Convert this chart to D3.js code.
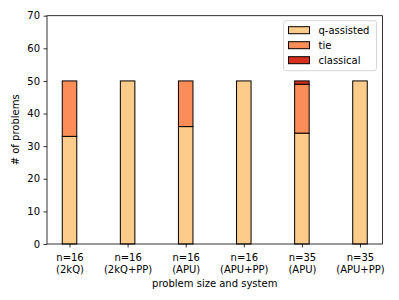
<!DOCTYPE html>
<html>
<head>
<meta charset="utf-8">
<script src="https://cdn.jsdelivr.net/npm/d3@7"></script>
<style>
  body { margin: 0; background: #fff; }
  svg { font-family: "DejaVu Sans", sans-serif; }
</style>
</head>
<body>
<svg id="chart" width="399" height="300"></svg>
<script>
// categories (two-line tick labels)
const categories = [
  ["n=16", "(2kQ)"],
  ["n=16", "(2kQ+PP)"],
  ["n=16", "(APU)"],
  ["n=16", "(APU+PP)"],
  ["n=35", "(APU)"],
  ["n=35", "(APU+PP)"]
];
const qAssisted = [33, 50, 36, 50, 34, 50];
const tie = [17, 0, 14, 0, 15, 0];
const classical = [0, 0, 0, 0, 1, 0];
const seriesNames = ["q-assisted", "tie", "classical"];
const seriesColors = ["#fdcc8a", "#fc8d59", "#d7301f"];
const yTicks = [0, 10, 20, 30, 40, 50, 60, 70];

const svg = d3.select("#chart");
const margin = {left: 47, right: 16.5, top: 15.7, bottom: 56};
const W = 399, H = 300;
const iw = W - margin.left - margin.right;
const ih = H - margin.top - margin.bottom;

const barW = 0.25;
const x = d3.scaleLinear().domain([-0.3875, 5.3875]).range([0, iw]);
const y = d3.scaleLinear().domain([0, 70]).range([ih, 0]);

const g = svg.append("g").attr("transform", `translate(${margin.left},${margin.top})`);

// stacked data
const rows = categories.map((c, i) => ({i, q: qAssisted[i], tie: tie[i], cl: classical[i]}));
const stack = d3.stack().keys(["q", "tie", "cl"])(rows);

stack.forEach((layer, k) => {
  g.selectAll(null).data(layer.filter(d => d[1] > d[0]))
    .enter().append("rect")
    .attr("x", d => x(d.data.i - barW / 2))
    .attr("width", x(barW) - x(0))
    .attr("y", d => y(d[1]))
    .attr("height", d => y(d[0]) - y(d[1]))
    .attr("fill", seriesColors[k])
    .attr("stroke", "#000")
    .attr("stroke-width", 1);
});

// axes
const yAxis = g.append("g").call(d3.axisLeft(y).tickValues(yTicks).tickSize(3.5).tickPadding(3.5));
const xAxis = g.append("g").attr("transform", `translate(0,${ih})`)
  .call(d3.axisBottom(x).tickValues(d3.range(categories.length)).tickSize(3.5).tickPadding(3.5).tickFormat(""));

[yAxis, xAxis].forEach(a => {
  a.select(".domain").remove();
  a.selectAll("line").attr("stroke", "#000").attr("stroke-width", 0.8);
  a.selectAll("text").attr("font-size", 10).attr("fill", "#000").attr("font-family", "DejaVu Sans");
});

xAxis.selectAll(".tick").each(function(d) {
  const t = d3.select(this).append("text")
    .attr("text-anchor", "middle").attr("font-size", 10).attr("fill", "#000")
    .attr("font-family", "DejaVu Sans");
  categories[d].forEach((line, j) => {
    t.append("tspan").attr("x", 0).attr("y", 17 + j * 11.5).text(line);
  });
});

// frame
g.append("rect").attr("width", iw).attr("height", ih)
  .attr("fill", "none").attr("stroke", "#000").attr("stroke-width", 0.8);

// axis labels
svg.append("text").attr("x", margin.left + iw / 2).attr("y", 287)
  .attr("text-anchor", "middle").attr("font-size", 10).text("problem size and system");
svg.append("text").attr("transform", `translate(19,${margin.top + ih / 2}) rotate(-90)`)
  .attr("text-anchor", "middle").attr("font-size", 10).text("# of problems");

// legend
const lg = g.append("g").attr("transform", `translate(${iw - 99},${5})`);
lg.append("rect").attr("width", 93).attr("height", 50).attr("rx", 2.5)
  .attr("fill", "#fff").attr("fill-opacity", 0.8).attr("stroke", "#ccc").attr("stroke-width", 0.8);
seriesNames.forEach((name, k) => {
  const row = lg.append("g").attr("transform", `translate(5,${6 + k * 15})`);
  row.append("rect").attr("width", 21).attr("height", 7)
    .attr("fill", seriesColors[k]).attr("stroke", "#000").attr("stroke-width", 1);
  row.append("text").attr("x", 30).attr("y", 7.5).attr("font-size", 10).text(name);
});
</script>
</body>
</html>
